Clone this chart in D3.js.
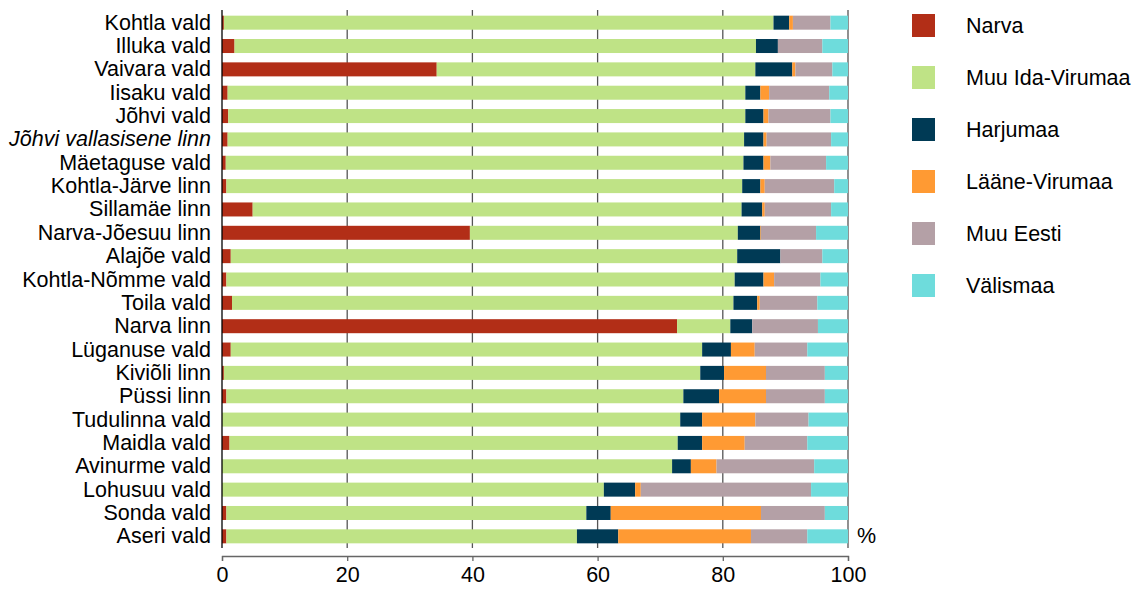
<!DOCTYPE html>
<html>
<head>
<meta charset="utf-8">
<script src="https://cdn.jsdelivr.net/npm/d3@7"></script>
<style>
  body { margin: 0; background: #fff; }
  text { font-family: "Liberation Sans", Arial, sans-serif; }
</style>
</head>
<body>
<div id="chart"></div>
<script>
// categories top to bottom
const places = ['Kohtla vald', 'Illuka vald', 'Vaivara vald', 'Iisaku vald', 'Jõhvi vald',
  'Jõhvi vallasisene linn', 'Mäetaguse vald', 'Kohtla-Järve linn', 'Sillamäe linn',
  'Narva-Jõesuu linn', 'Alajõe vald', 'Kohtla-Nõmme vald', 'Toila vald', 'Narva linn',
  'Lüganuse vald', 'Kiviõli linn', 'Püssi linn', 'Tudulinna vald', 'Maidla vald',
  'Avinurme vald', 'Lohusuu vald', 'Sonda vald', 'Aseri vald']

const seriesNames = ['Narva', 'Muu Ida-Virumaa', 'Harjumaa', 'Lääne-Virumaa', 'Muu Eesti', 'Välismaa']
const seriesColors = ['#b22e17', '#bfe386', '#003a55', '#ff9a33', '#b4a0a6', '#6edcdc']

// shares in %, one value per place
const narva     = [0.3, 2.0, 34.3, 0.9, 1.0, 0.9, 0.6, 0.7, 4.9, 39.6, 1.4, 0.7, 1.6, 72.7, 1.4, 0.3, 0.7, 0, 1.2, 0, 0, 0.7, 0.7]
const muuIdaVir = [87.8, 83.3, 50.9, 82.7, 82.6, 82.5, 82.7, 82.4, 78.1, 42.8, 80.9, 81.2, 80.1, 8.5, 75.3, 76.1, 73.0, 73.2, 71.6, 71.9, 61.0, 57.5, 56.0]
const harjumaa  = [2.5, 3.5, 5.9, 2.4, 2.9, 3.1, 3.2, 2.9, 3.3, 3.6, 6.9, 4.6, 3.8, 3.5, 4.6, 3.8, 5.7, 3.5, 3.9, 3.0, 5.0, 3.9, 6.6]
const laaneVir  = [0.6, 0, 0.5, 1.4, 0.8, 0.5, 1.1, 0.7, 0.4, 0.1, 0, 1.7, 0.4, 0, 3.8, 6.7, 7.5, 8.5, 6.8, 4.1, 0.9, 24.0, 21.2]
const muuEesti  = [6.0, 7.1, 5.9, 9.6, 9.9, 10.3, 8.9, 11.1, 10.6, 8.8, 6.7, 7.4, 9.2, 10.5, 8.4, 9.4, 9.4, 8.5, 10.0, 15.6, 27.2, 10.2, 9.0]
const valismaa  = [2.8, 4.1, 2.5, 3.0, 2.8, 2.7, 3.5, 2.2, 2.7, 5.1, 4.1, 4.4, 4.9, 4.8, 6.5, 3.7, 3.7, 6.3, 6.5, 5.4, 5.9, 3.7, 6.5]

const xTicks = [0, 20, 40, 60, 80, 100]

const allSeries = [narva, muuIdaVir, harjumaa, laaneVir, muuEesti, valismaa]
const rows = places.map((p, i) => {
  const r = {place: p}
  seriesNames.forEach((s, j) => r[s] = allSeries[j][i])
  return r
})
const stacked = d3.stack().keys(seriesNames)(rows)

const width = 1137, height = 589
const margin = {top: 11, left: 222, right: 289, bottom: 41}
const plotW = width - margin.left - margin.right
const plotH = height - margin.top - margin.bottom

const x = d3.scaleLinear().domain([0, 100]).range([0, plotW])
const y = d3.scaleBand().domain(places).range([0, plotH]).paddingInner(0.4).paddingOuter(0.2)
const color = d3.scaleOrdinal().domain(seriesNames).range(seriesColors)

const svg = d3.select('#chart').append('svg')
    .attr('width', width)
    .attr('height', height)

const g = svg.append('g')
    .attr('transform', `translate(${margin.left}, ${margin.top})`)

// grid lines
g.append('g')
  .selectAll('line')
  .data(xTicks.filter(d => d > 0))
  .join('line')
    .attr('x1', d => x(d))
    .attr('x2', d => x(d))
    .attr('y1', -1)
    .attr('y2', plotH)
    .attr('stroke', '#555')
    .attr('stroke-width', 1.3)

// bars
g.append('g')
  .selectAll('g')
  .data(stacked)
  .join('g')
    .attr('fill', d => color(d.key))
  .selectAll('rect')
  .data(d => d)
  .join('rect')
    .attr('x', d => x(d[0]))
    .attr('y', d => y(d.data.place))
    .attr('width', d => Math.max(0, x(d[1]) - x(d[0])))
    .attr('height', y.bandwidth())

// y axis
g.append('line')
    .attr('x1', 0).attr('x2', 0)
    .attr('y1', -1).attr('y2', plotH)
    .attr('stroke', '#000')
    .attr('stroke-width', 1.3)

g.append('g')
  .selectAll('text')
  .data(places)
  .join('text')
    .attr('x', -11)
    .attr('y', d => y(d) + y.bandwidth() / 2)
    .attr('text-anchor', 'end')
    .attr('dominant-baseline', 'central')
    .attr('font-size', 21.5)
    .attr('font-style', d => d === 'Jõhvi vallasisene linn' ? 'italic' : 'normal')
    .attr('fill', '#000')
    .text(d => d)

// x axis
const xAxis = g.append('g')
    .attr('transform', `translate(0, ${plotH + 8})`)
    .call(d3.axisBottom(x).tickValues(xTicks).tickSize(5).tickSizeOuter(5).tickPadding(6))
xAxis.select('.domain').attr('stroke', '#666').attr('stroke-width', 1.3)
xAxis.selectAll('.tick line').attr('stroke', '#666').attr('stroke-width', 1.3)
xAxis.selectAll('.tick text')
    .attr('font-size', 21.5)
    .attr('font-family', '"Liberation Sans", Arial, sans-serif')
    .attr('fill', '#000')

// unit label
g.append('text')
    .attr('x', plotW + 9)
    .attr('y', y(places[places.length - 1]) + y.bandwidth() / 2)
    .attr('dominant-baseline', 'central')
    .attr('font-size', 21.5)
    .text('%')

// legend
const legend = svg.append('g')
    .attr('transform', 'translate(912, 14)')
const item = legend.selectAll('g')
  .data(seriesNames)
  .join('g')
    .attr('transform', (d, i) => `translate(0, ${i * 52})`)
item.append('rect')
    .attr('width', 23)
    .attr('height', 23)
    .attr('fill', d => color(d))
item.append('text')
    .attr('x', 54)
    .attr('y', 12)
    .attr('dominant-baseline', 'central')
    .attr('font-size', 21.5)
    .text(d => d)
</script>
</body>
</html>
